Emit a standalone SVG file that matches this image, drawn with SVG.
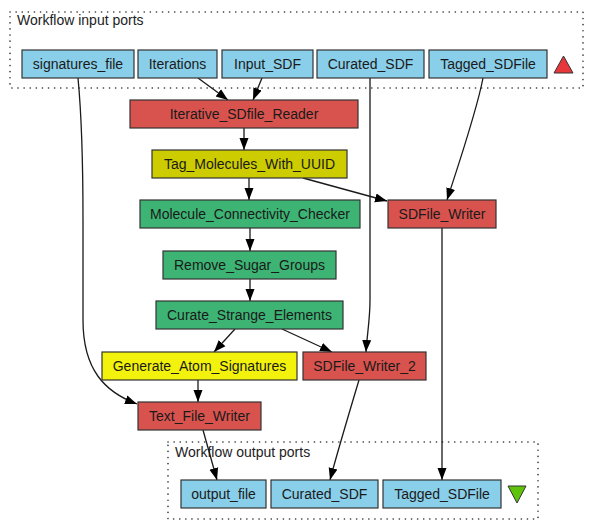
<svg xmlns="http://www.w3.org/2000/svg" width="600" height="530" viewBox="0 0 600 530">
<defs>
<marker id="arr" markerUnits="userSpaceOnUse" markerWidth="13" markerHeight="11" refX="12" refY="5.5" orient="auto">
<path d="M0,1 L12,5.5 L0,10 Z" fill="#000"/>
</marker>
<style>
.cluster{fill:none;stroke:#333;stroke-width:1.6;stroke-dasharray:0.1 6;stroke-linecap:round}
.ctitle{font-family:"Liberation Sans",Arial,sans-serif;font-size:14px;fill:#222}
.n rect{stroke:#333;stroke-width:1.2}
.n text{font-family:"Liberation Sans",Arial,sans-serif;font-size:14px;fill:#1a1a1a;text-anchor:middle}
.port rect{fill:#8acfe9}
.red rect{fill:#d9534e}
.green rect{fill:#3db474}
.olive rect{fill:#cccc00}
.yellow rect{fill:#f2f20c}
.edges path{fill:none;stroke:#1a1a1a;stroke-width:1.3;marker-end:url(#arr)}
</style>
</defs>
<rect width="600" height="530" fill="#fff"/>

<g id="input_ports_cluster">
<rect class="cluster" x="10" y="12" width="573" height="76"/>
<text class="ctitle" x="17" y="25">Workflow input ports</text>
<polygon points="563.5,56 573,73 554,73" fill="#e8373a" stroke="#333" stroke-width="1"/>
</g>
<g id="output_ports_cluster">
<rect class="cluster" x="168" y="442" width="370" height="77"/>
<text class="ctitle" x="175" y="457">Workflow output ports</text>
<polygon points="508,486 526,486 517,503" fill="#5fc30a" stroke="#333" stroke-width="1"/>
</g>

<g class="edges" id="connectors">
<path d="M198,78 L228,100"/>
<path d="M262,78 L253,100"/>
<path d="M244,128 L244,150"/>
<path d="M249,178 L249,200"/>
<path d="M303,178 L387,201"/>
<path d="M483,78 C477,110 460,160 447,200"/>
<path d="M250,228 L250,251"/>
<path d="M250,279 L250,301"/>
<path d="M235,329 L214,352"/>
<path d="M282,329 L332,352"/>
<path d="M370,78 L370,300 C370,320 367,335 366,352"/>
<path d="M78,78 C82,120 83,160 83,220 L83,320 C83,370 105,392 137,404"/>
<path d="M198,380 L198,402"/>
<path d="M442,228 L442,480"/>
<path d="M359,380 C350,410 338,450 330,480"/>
<path d="M203,430 L217,480"/>
</g>

<g id="in_signatures_file" class="n port"><rect x="22" y="50" width="112" height="28"/><text x="78" y="69">signatures_file</text></g>
<g id="in_Iterations" class="n port"><rect x="138" y="50" width="79" height="28"/><text x="177.5" y="69">Iterations</text></g>
<g id="in_Input_SDF" class="n port"><rect x="222" y="50" width="91" height="28"/><text x="267.5" y="69">Input_SDF</text></g>
<g id="in_Curated_SDF" class="n port"><rect x="317" y="50" width="107" height="28"/><text x="370.5" y="69">Curated_SDF</text></g>
<g id="in_Tagged_SDFile" class="n port"><rect x="429" y="50" width="118" height="28"/><text x="488" y="69">Tagged_SDFile</text></g>

<g id="Iterative_SDfile_Reader" class="n red"><rect x="130" y="100" width="228" height="28"/><text x="244" y="119">Iterative_SDfile_Reader</text></g>
<g id="Tag_Molecules_With_UUID" class="n olive"><rect x="152" y="150" width="195" height="28"/><text x="249.5" y="169">Tag_Molecules_With_UUID</text></g>
<g id="Molecule_Connectivity_Checker" class="n green"><rect x="140" y="200" width="220" height="28"/><text x="250" y="219">Molecule_Connectivity_Checker</text></g>
<g id="SDFile_Writer" class="n red"><rect x="388" y="200" width="108" height="28"/><text x="442" y="219">SDFile_Writer</text></g>
<g id="Remove_Sugar_Groups" class="n green"><rect x="163" y="251" width="173" height="28"/><text x="249.5" y="270">Remove_Sugar_Groups</text></g>
<g id="Curate_Strange_Elements" class="n green"><rect x="156" y="301" width="187" height="28"/><text x="249.5" y="320">Curate_Strange_Elements</text></g>
<g id="Generate_Atom_Signatures" class="n yellow"><rect x="102" y="352" width="195" height="28"/><text x="199.5" y="371">Generate_Atom_Signatures</text></g>
<g id="SDFile_Writer_2" class="n red"><rect x="303" y="352" width="123" height="28"/><text x="364.5" y="371">SDFile_Writer_2</text></g>
<g id="Text_File_Writer" class="n red"><rect x="138" y="402" width="123" height="28"/><text x="199.5" y="421">Text_File_Writer</text></g>

<g id="out_output_file" class="n port"><rect x="181" y="480" width="85" height="28"/><text x="223.5" y="499">output_file</text></g>
<g id="out_Curated_SDF" class="n port"><rect x="271" y="480" width="107" height="28"/><text x="324.5" y="499">Curated_SDF</text></g>
<g id="out_Tagged_SDFile" class="n port"><rect x="383" y="480" width="118" height="28"/><text x="442" y="499">Tagged_SDFile</text></g>
</svg>
